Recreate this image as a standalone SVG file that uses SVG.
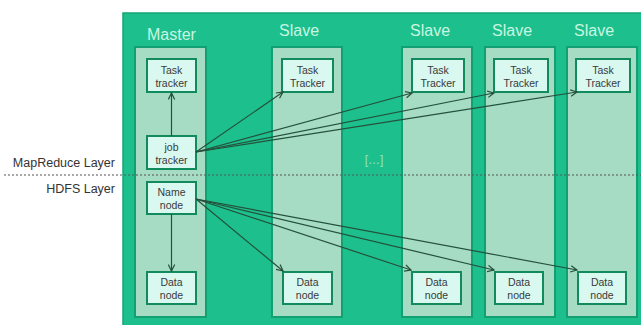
<svg xmlns="http://www.w3.org/2000/svg" width="641" height="325" viewBox="0 0 641 325">
<defs>
<style>
.bg{fill:#1dc08c;stroke:#13a477;stroke-width:1.5}
.col{fill:#a6dcc3;stroke:#12a073;stroke-width:2}
.node{fill:#d9f8f0;stroke:#118a5e;stroke-width:2}
.nt{font-family:"Liberation Sans",Arial,sans-serif;font-size:10.5px;fill:#3a3a3a;text-anchor:middle}
.hd{font-family:"Liberation Sans",Arial,sans-serif;font-size:16px;fill:#c9f5e2}
.ly{font-family:"Liberation Sans",Arial,sans-serif;font-size:12.5px;fill:#333;text-anchor:end}
.cn{fill:none;stroke:#24503c;stroke-width:1.2}
</style>
<marker id="ah" viewBox="0 0 10 10" refX="9" refY="5" markerWidth="8" markerHeight="8" orient="auto" markerUnits="userSpaceOnUse">
<polyline points="1,1 9,5 1,9" fill="none" stroke="#24503c" stroke-width="1.5"/>
</marker>
</defs>
<rect width="641" height="325" fill="#ffffff"/>
<rect class="bg" x="123" y="13" width="522" height="316"/>

<g id="master">
<rect class="col" x="135" y="47" width="71" height="270"/>
<text class="hd" x="147" y="40">Master</text>
</g>
<g id="slave1">
<rect class="col" x="272" y="47" width="70" height="270"/>
<text class="hd" x="279" y="36">Slave</text>
</g>
<g id="slave2">
<rect class="col" x="402" y="47" width="70" height="270"/>
<text class="hd" x="410" y="36">Slave</text>
</g>
<g id="slave3">
<rect class="col" x="485" y="47" width="70" height="270"/>
<text class="hd" x="492" y="36">Slave</text>
</g>
<g id="slave4">
<rect class="col" x="567" y="47" width="70" height="270"/>
<text class="hd" x="574" y="36">Slave</text>
</g>

<g id="ellipsis"><text x="374" y="164" font-family="'Liberation Sans',Arial,sans-serif" font-size="12px" fill="#8fe6c6" text-anchor="middle">[…]</text></g>

<g id="layers">
<line x1="4" y1="175" x2="641" y2="175" stroke="#555" stroke-width="1.2" stroke-dasharray="2,2"/>
<text class="ly" x="115" y="167">MapReduce Layer</text>
<text class="ly" x="115" y="193">HDFS Layer</text>
</g>

<g id="m-task"><rect class="node" x="147" y="59" width="49" height="33"/><text class="nt" x="171.5" y="73.5">Task</text><text class="nt" x="171.5" y="86.5">tracker</text></g>
<g id="m-job"><rect class="node" x="147" y="136" width="49" height="33"/><text class="nt" x="171.5" y="150.5">job</text><text class="nt" x="171.5" y="163.5">tracker</text></g>
<g id="m-name"><rect class="node" x="147" y="182" width="49" height="32"/><text class="nt" x="171.5" y="196">Name</text><text class="nt" x="171.5" y="209">node</text></g>
<g id="m-data"><rect class="node" x="147" y="272" width="49" height="32"/><text class="nt" x="171.5" y="286">Data</text><text class="nt" x="171.5" y="299">node</text></g>

<g id="s1-task"><rect class="node" x="282" y="59" width="51" height="33"/><text class="nt" x="307.5" y="73.5">Task</text><text class="nt" x="307.5" y="86.5">Tracker</text></g>
<g id="s2-task"><rect class="node" x="412" y="59" width="52" height="33"/><text class="nt" x="438" y="73.5">Task</text><text class="nt" x="438" y="86.5">Tracker</text></g>
<g id="s3-task"><rect class="node" x="494" y="59" width="54" height="33"/><text class="nt" x="521" y="73.5">Task</text><text class="nt" x="521" y="86.5">Tracker</text></g>
<g id="s4-task"><rect class="node" x="576" y="59" width="54" height="33"/><text class="nt" x="603" y="73.5">Task</text><text class="nt" x="603" y="86.5">Tracker</text></g>

<g id="s1-data"><rect class="node" x="283" y="272" width="49" height="32"/><text class="nt" x="307.5" y="286">Data</text><text class="nt" x="307.5" y="299">node</text></g>
<g id="s2-data"><rect class="node" x="412" y="272" width="49" height="32"/><text class="nt" x="436.5" y="286">Data</text><text class="nt" x="436.5" y="299">node</text></g>
<g id="s3-data"><rect class="node" x="495" y="272" width="48" height="32"/><text class="nt" x="519" y="286">Data</text><text class="nt" x="519" y="299">node</text></g>
<g id="s4-data"><rect class="node" x="578" y="272" width="48" height="32"/><text class="nt" x="602" y="286">Data</text><text class="nt" x="602" y="299">node</text></g>

<g id="connectors">
<line class="cn" x1="171.5" y1="136" x2="171.5" y2="93" marker-end="url(#ah)"/>
<line class="cn" x1="196" y1="152" x2="283" y2="92" marker-end="url(#ah)"/>
<line class="cn" x1="196" y1="152" x2="412" y2="93" marker-end="url(#ah)"/>
<line class="cn" x1="196" y1="152" x2="494" y2="93" marker-end="url(#ah)"/>
<line class="cn" x1="196" y1="152" x2="577" y2="92" marker-end="url(#ah)"/>
<line class="cn" x1="171.5" y1="214" x2="171.5" y2="271" marker-end="url(#ah)"/>
<line class="cn" x1="196" y1="199" x2="283" y2="271" marker-end="url(#ah)"/>
<line class="cn" x1="196" y1="199" x2="411" y2="270" marker-end="url(#ah)"/>
<line class="cn" x1="196" y1="199" x2="494" y2="270" marker-end="url(#ah)"/>
<line class="cn" x1="196" y1="199" x2="577" y2="270" marker-end="url(#ah)"/>
</g>
</svg>
